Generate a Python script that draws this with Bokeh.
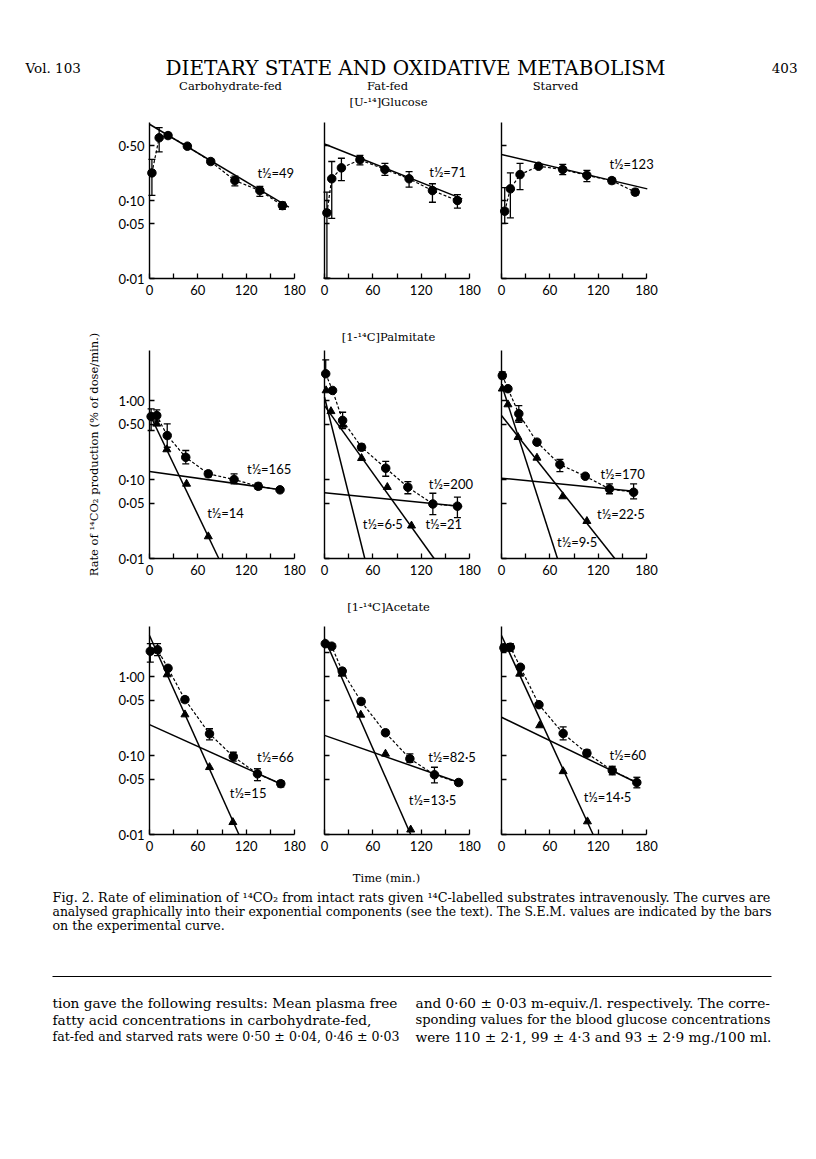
from bokeh.plotting import figure
from bokeh.layouts import column, row
from bokeh.models import Range1d, FixedTicker, ColumnDataSource, Whisker, TeeHead
from bokeh.core.properties import value
from bokeh.embed import file_html
from bokeh.resources import INLINE

# ------------------------------------------------------------------ data
# experimental curve (circles): time (min), rate, s.e.m. lower / upper ends
cg_t = [3, 12, 23, 47, 76, 106, 137, 165]
cg_y = [0.226, 0.637, 0.68, 0.497, 0.316, 0.18, 0.134, 0.086]
cg_lo = [0.116, 0.42, 0.63, 0.465, 0.295, 0.154, 0.113, 0.077]
cg_hi = [0.336, 0.86, 0.73, 0.53, 0.34, 0.205, 0.152, 0.095]

fg_t = [3, 9, 21, 44, 75, 105, 134, 165]
fg_y = [0.0695, 0.19, 0.262, 0.333, 0.25, 0.19, 0.134, 0.1]
fg_lo = [0.0101, 0.059, 0.18, 0.287, 0.21, 0.148, 0.095, 0.08]
fg_hi = [0.128, 0.316, 0.348, 0.378, 0.30, 0.235, 0.164, 0.119]

sg_t = [4, 11, 23, 46, 76, 106, 137, 166]
sg_y = [0.073, 0.141, 0.215, 0.275, 0.25, 0.21, 0.18, 0.128]
sg_lo = [0.051, 0.06, 0.138, 0.26, 0.215, 0.175, 0.165, 0.117]
sg_hi = [0.146, 0.226, 0.30, 0.29, 0.29, 0.243, 0.195, 0.14]

cp_t = [2, 9, 22, 45, 73, 105, 135, 162]
cp_y = [0.627, 0.645, 0.36, 0.191, 0.118, 0.1, 0.082, 0.074]
cp_lo = [0.417, 0.55, 0.256, 0.158, 0.108, 0.088, 0.075, 0.074]
cp_hi = [0.785, 0.76, 0.507, 0.233, 0.128, 0.118, 0.09, 0.074]
cp_tri_t = [9, 21.5, 46, 73]
cp_tri_y = [0.507, 0.24, 0.088, 0.019]

fp_t = [1.5, 10, 22.5, 46, 76, 103.5, 134.5, 165]
fp_y = [2.18, 1.34, 0.56, 0.256, 0.139, 0.08, 0.049, 0.046]
fp_lo = [2.18, 1.34, 0.44, 0.235, 0.11, 0.066, 0.036, 0.033]
fp_hi = [3.27, 1.34, 0.71, 0.28, 0.17, 0.094, 0.067, 0.06]
fp_tri_t = [2, 8, 22.5, 46, 78, 108]
fp_tri_y = [1.34, 0.73, 0.49, 0.186, 0.08, 0.026]

sp_t = [1, 8, 21.5, 44, 72.5, 104, 134, 164]
sp_y = [2.07, 1.41, 0.68, 0.297, 0.155, 0.11, 0.076, 0.069]
sp_lo = [1.9, 1.41, 0.53, 0.297, 0.126, 0.11, 0.066, 0.057]
sp_hi = [2.3, 1.41, 0.86, 0.297, 0.18, 0.11, 0.088, 0.088]
sp_tri_t = [1, 8, 20.5, 22, 44, 76, 106]
sp_tri_y = [1.41, 0.89, 0.343, 0.586, 0.188, 0.061, 0.0297]

ca_t = [1, 10, 23, 44, 74.5, 104, 134, 163]
ca_y = [2.09, 2.18, 1.27, 0.51, 0.188, 0.097, 0.0586, 0.044]
ca_lo = [1.52, 1.84, 1.27, 0.47, 0.158, 0.085, 0.048, 0.04]
ca_hi = [2.6, 2.6, 1.27, 0.55, 0.218, 0.11, 0.068, 0.048]
ca_tri_t = [22, 44, 74.5, 103.5]
ca_tri_y = [1.06, 0.33, 0.071, 0.0143]

fa_t = [1, 9, 22, 45.5, 75.7, 106, 136.5, 166.5]
fa_y = [2.6, 2.42, 1.17, 0.483, 0.194, 0.091, 0.057, 0.0455]
fa_lo = [2.6, 2.25, 1.07, 0.445, 0.18, 0.082, 0.045, 0.042]
fa_hi = [2.6, 2.6, 1.27, 0.52, 0.21, 0.105, 0.071, 0.049]
fa_tri_t = [22, 45, 75.7, 107]
fa_tri_y = [1.08, 0.327, 0.105, 0.0115]

sa_t = [3, 11, 23.5, 46.5, 76.5, 106, 137.5, 168]
sa_y = [2.31, 2.35, 1.31, 0.44, 0.19, 0.107, 0.0646, 0.0455]
sa_lo = [2.1, 2.1, 1.31, 0.42, 0.158, 0.097, 0.057, 0.039]
sa_hi = [2.55, 2.6, 1.31, 0.46, 0.23, 0.118, 0.073, 0.053]
sa_tri_t = [22.6, 47.4, 76.5, 106.7]
sa_tri_y = [1.08, 0.24, 0.063, 0.0146]

# exponential components: (t start, rate start, t end, rate end)
cg_lines = [(0, 0.95, 173, 0.082)]
fg_lines = [(0, 0.53, 171, 0.105)]
sg_lines = [(0, 0.39, 181, 0.141)]
cp_lines = [(0, 0.68, 86, 0.01), (0, 0.126, 163, 0.074)]
fp_lines = [(0, 1.1, 50, 0.01), (0, 0.86, 136, 0.01), (0, 0.068, 171, 0.0455)]
sp_lines = [(0, 1.6, 69.5, 0.01), (0, 0.646, 140.6, 0.01), (0, 0.104, 167.5, 0.0705)]
ca_lines = [(0, 3.3, 111, 0.01), (0, 0.246, 164.5, 0.043)]
fa_lines = [(0, 3.03, 107, 0.01), (0, 0.18, 167.5, 0.0455)]
sa_lines = [(0, 3.3, 113.7, 0.01), (0, 0.305, 167.5, 0.0455)]

# half-life labels: (t, rate, text)
cg_labels = [(134, 0.222, "t½=49")]
fg_labels = [(130, 0.23, "t½=71")]
sg_labels = [(134, 0.295, "t½=123")]
cp_labels = [(121, 0.134, "t½=165"), (71.6, 0.038, "t½=14")]
fp_labels = [(129.4, 0.088, "t½=200"), (47.5, 0.0275, "t½=6·5"), (125.3, 0.0275, "t½=21")]
sp_labels = [(122.8, 0.116, "t½=170"), (118.7, 0.0368, "t½=22·5"), (69, 0.016, "t½=9·5")]
ca_labels = [(133.6, 0.095, "t½=66"), (99.6, 0.0337, "t½=15")]
fa_labels = [(128.7, 0.095, "t½=82·5"), (104.6, 0.027, "t½=13·5")]
sa_labels = [(134, 0.102, "t½=60"), (102, 0.0296, "t½=14·5")]

x_major = [0, 60, 120, 180]
x_minor = [30, 90, 150]
y_ticks_glucose = [0.01, 0.05, 0.1, 0.5]
y_labels_glucose = ["0·01", "0·05", "0·10", "0·50"]
y_ticks_palm = [0.01, 0.05, 0.1, 0.5, 1.0]
y_labels_palm = ["0·01", "0·05", "0·10", "0·50", "1·00"]
y_ticks_acet = [0.01, 0.05, 0.1, 0.5, 1.0]
y_labels_acet = ["0·01", "0·05", "0·10", "0·05", "1·00"]
y_extra_acet = [2.0]

col_titles = ["Carbohydrate-fed", "Fat-fed", "Starved"]
row_titles = ["[U-¹⁴]Glucose", "[1-¹⁴C]Palmitate", "[1-¹⁴C]Acetate"]
y_title = "Rate of ¹⁴CO₂ production (% of dose/min.)"
x_title = "Time (min.)"

# ------------------------------------------------------------------ layout geometry (page pixels)
SANS_NAME = "Lato"
SERIF_NAME = "DejaVu Serif"
SANS = value(SANS_NAME)
SERIF = value(SERIF_NAME)
PXM = 145 / 180.0      # pixels per minute
PAGE_W = 812
COLS = [dict(left=0, right=306, x0=149), dict(left=306, right=484, x0=324),
        dict(left=484, right=PAGE_W, x0=501)]
ROWS = [dict(top=116, bottom=306, p01=278, dec=78.0, ytop=1.0,
             ticks=y_ticks_glucose, labels=y_labels_glucose, extra=[], title=None),
        dict(top=306, bottom=600, p01=558, dec=79.0, ytop=4.35,
             ticks=y_ticks_palm, labels=y_labels_palm, extra=[], title=(388, 336)),
        dict(top=600, bottom=862, p01=834, dec=79.0, ytop=4.3,
             ticks=y_ticks_acet, labels=y_labels_acet, extra=y_extra_acet, title=(388, 606))]

PANELS = [
    [(cg_t, cg_y, cg_lo, cg_hi, None, None, cg_lines, cg_labels),
     (fg_t, fg_y, fg_lo, fg_hi, None, None, fg_lines, fg_labels),
     (sg_t, sg_y, sg_lo, sg_hi, None, None, sg_lines, sg_labels)],
    [(cp_t, cp_y, cp_lo, cp_hi, cp_tri_t, cp_tri_y, cp_lines, cp_labels),
     (fp_t, fp_y, fp_lo, fp_hi, fp_tri_t, fp_tri_y, fp_lines, fp_labels),
     (sp_t, sp_y, sp_lo, sp_hi, sp_tri_t, sp_tri_y, sp_lines, sp_labels)],
    [(ca_t, ca_y, ca_lo, ca_hi, ca_tri_t, ca_tri_y, ca_lines, ca_labels),
     (fa_t, fa_y, fa_lo, fa_hi, fa_tri_t, fa_tri_y, fa_lines, fa_labels),
     (sa_t, sa_y, sa_lo, sa_hi, sa_tri_t, sa_tri_y, sa_lines, sa_labels)],
]


def panel(ri, ci):
    R, C = ROWS[ri], COLS[ci]
    t, y, lo, hi, tt, ty, lines, labels = PANELS[ri][ci]
    # the frame covers the whole figure; the axes sit at t=0 / rate=0.01 inside it
    x_start = (C["left"] - C["x0"]) / PXM
    x_end = (C["right"] - C["x0"]) / PXM
    y_start = 10 ** (-2 - (R["bottom"] - R["p01"]) / R["dec"])
    y_end = 10 ** (-2 + (R["p01"] - R["top"]) / R["dec"])
    p = figure(width=C["right"] - C["left"], height=R["bottom"] - R["top"],
               x_range=Range1d(x_start, x_end), y_range=Range1d(y_start, y_end),
               y_axis_type="log", output_backend="svg", toolbar_location=None,
               min_border=0, background_fill_color="white", border_fill_color="white")
    p.outline_line_color = None
    p.grid.visible = False
    p.xaxis.fixed_location = 0.01
    p.yaxis.fixed_location = 0
    p.xaxis.bounds = (0, 180)
    p.yaxis.bounds = (0.01, R["ytop"])
    p.xaxis.ticker = FixedTicker(ticks=x_major, minor_ticks=x_minor)
    if ci == 0:
        p.yaxis.ticker = FixedTicker(ticks=R["ticks"], minor_ticks=R["extra"])
        p.yaxis.major_label_overrides = {k: v for k, v in zip(R["ticks"], R["labels"])}
    else:
        p.yaxis.ticker = FixedTicker(ticks=[], minor_ticks=R["ticks"] + R["extra"])
    for ax in (p.xaxis[0], p.yaxis[0]):
        ax.axis_line_width = 1.4
        ax.axis_line_color = "black"
        ax.major_tick_in = 5
        ax.major_tick_out = 0
        ax.major_tick_line_width = 1.3
        ax.minor_tick_in = 5
        ax.minor_tick_out = 0
        ax.minor_tick_line_width = 1.3
        ax.minor_tick_line_color = "black"
        ax.major_label_text_font = SANS_NAME
        ax.major_label_text_font_size = "13px"
        ax.major_label_text_color = "black"
    p.xaxis.major_label_standoff = 6
    p.yaxis.major_label_standoff = 5
    if ri == 1 and ci == 0:
        p.yaxis.axis_label = y_title
        p.yaxis.axis_label_text_font = SERIF_NAME
        p.yaxis.axis_label_text_font_style = "normal"
        p.yaxis.axis_label_text_font_size = "11.5px"
        p.yaxis.axis_label_text_color = "black"
        p.yaxis.axis_label_standoff = 14
    for (a, b, c, d) in lines:
        p.line([a, c], [b, d], line_color="black", line_width=1.5)
    p.line(t, y, line_color="black", line_width=1.2, line_dash="3 2")
    keep = [i for i in range(len(t)) if hi[i] > lo[i]]
    ws = ColumnDataSource(dict(t=[t[i] for i in keep], lo=[lo[i] for i in keep],
                               hi=[hi[i] for i in keep]))
    p.add_layout(Whisker(base="t", lower="lo", upper="hi", source=ws, dimension="height",
                         line_color="black", line_width=1.3,
                         upper_head=TeeHead(size=7, line_width=1.3, line_color="black"),
                         lower_head=TeeHead(size=7, line_width=1.3, line_color="black")))
    if tt is not None:
        p.scatter(tt, ty, marker="triangle", size=8, fill_color="black", line_color="black")
    p.scatter(t, y, marker="circle", size=8.5, fill_color="black", line_color="black")
    p.text(x=[l[0] for l in labels], y=[l[1] for l in labels], text=[l[2] for l in labels],
           text_font=SANS, text_font_size="13px", text_baseline="middle", text_align="left",
           text_color="black")
    # substrate title of the row, placed in the middle panel of that row
    if ci == 1 and R["title"] is not None:
        px, py = R["title"]
        p.text(x=[(px - C["x0"]) / PXM], y=[10 ** (-2 + (R["p01"] - py) / R["dec"])],
               text=[row_titles[ri]], text_font=SERIF, text_font_size="11.5px",
               text_align="center", text_baseline="middle", text_color="black")
    return p


def text_fig(top, bottom):
    w, h = PAGE_W, bottom - top
    f = figure(width=w, height=h, x_range=Range1d(0, w), y_range=Range1d(bottom, top),
               x_axis_type=None, y_axis_type=None, output_backend="svg",
               toolbar_location=None, min_border=0, border_fill_color="white")
    f.outline_line_color = None
    f.grid.visible = False
    return f


def put(f, x, y, txt, size, font=SERIF, align="left"):
    f.text(x=[x], y=[y], text=[txt], text_font=font, text_font_size=size,
           text_align=align, text_baseline="middle", text_color="black")


# header
hdr = text_fig(0, 116)
put(hdr, 25, 67, "Vol. 103", "13.5px")
put(hdr, 415, 67, "DIETARY STATE AND OXIDATIVE METABOLISM", "20px", align="center")
put(hdr, 797, 67, "403", "13.5px", align="right")
for cx, ttl in zip([230, 387, 555], col_titles):
    put(hdr, cx, 85, ttl, "11.5px", align="center")
put(hdr, 388, 101, row_titles[0], "11.5px", align="center")

# footer
ftr = text_fig(862, 1150)
put(ftr, 386, 877, x_title, "11.5px", align="center")
caption = ["Fig. 2.  Rate of elimination of ¹⁴CO₂ from intact rats given ¹⁴C-labelled substrates intravenously.  The curves are",
           "analysed graphically into their exponential components (see the text).  The S.E.M. values are indicated by the bars",
           "on the experimental curve."]
caption_size = ["12.8px", "12.4px", "12.6px"]
for i, line in enumerate(caption):
    put(ftr, 52, 897 + 14 * i, line, caption_size[i])
ftr.line([52, 771], [976, 976], line_color="black", line_width=1)
body_left = ["tion gave the following results: Mean plasma free",
             "fatty acid concentrations in carbohydrate-fed,",
             "fat-fed and starved rats were 0·50 ± 0·04, 0·46 ± 0·03"]
body_left_size = ["13.7px", "13.7px", "12.6px"]
body_right = ["and 0·60 ± 0·03 m-equiv./l. respectively. The corre-",
              "sponding values for the blood glucose concentrations",
              "were 110 ± 2·1, 99 ± 4·3 and 93 ± 2·9 mg./100 ml."]
body_right_size = ["13.7px", "13.1px", "13.7px"]
for i, line in enumerate(body_left):
    put(ftr, 52, 1002 + 17 * i, line, body_left_size[i])
for i, line in enumerate(body_right):
    put(ftr, 415, 1002 + 17 * i, line, body_right_size[i])

rows = [row(*[panel(ri, ci) for ci in range(3)]) for ri in range(3)]
layout = column(hdr, rows[0], rows[1], rows[2], ftr)

open("out.html", "w").write(file_html(layout, INLINE))
